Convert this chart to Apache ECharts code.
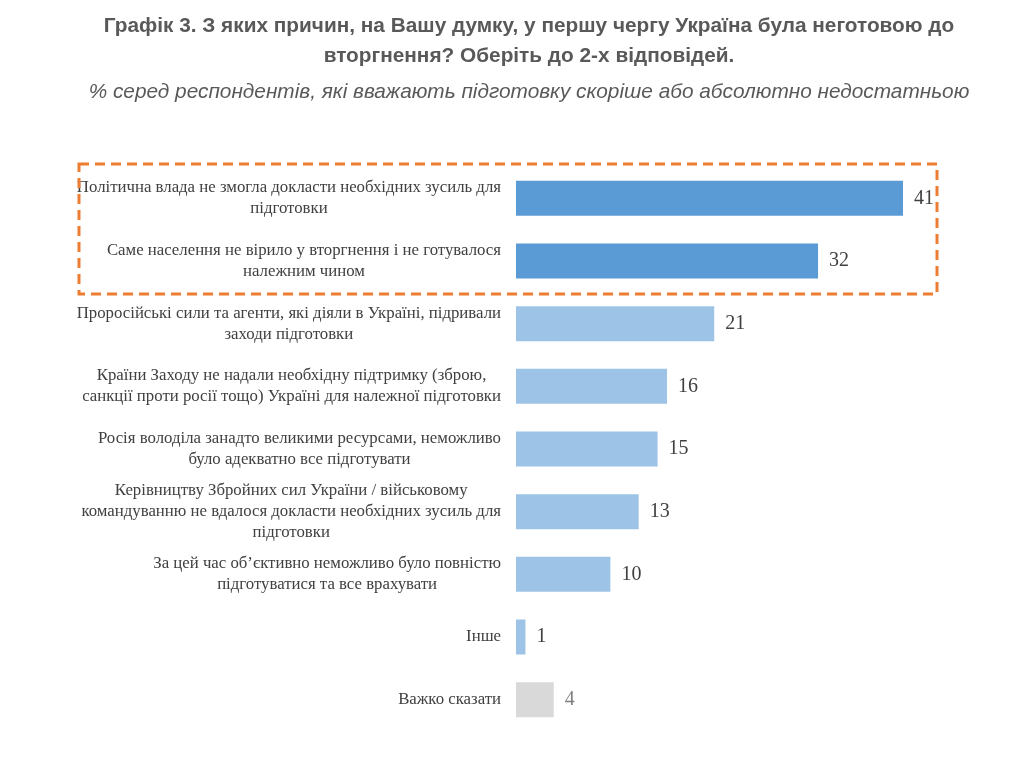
<!DOCTYPE html>
<html>
<head>
<meta charset="utf-8">
<script src="https://cdn.jsdelivr.net/npm/echarts@6/dist/echarts.min.js"></script>
<style>
  html, body { margin: 0; padding: 0; background: #fff; }
  .echarts { width: 1015px; height: 771px; }
</style>
</head>
<body>
<div class="echarts"></div>
<script>
// категорії знизу вгору (вісь Y категорій малює перший елемент внизу)
const categories = [
    'Важко сказати',
    'Інше',
    'За цей час об’єктивно неможливо було повністю\nпідготуватися та все врахувати',
    'Керівництву Збройних сил України / військовому\nкомандуванню не вдалося докласти необхідних зусиль для\nпідготовки',
    'Росія володіла занадто великими ресурсами, неможливо\nбуло адекватно все підготувати',
    'Країни Заходу не надали необхідну підтримку (зброю,\nсанкції проти росії тощо) Україні для належної підготовки',
    'Проросійські сили та агенти, які діяли в Україні, підривали\nзаходи підготовки',
    'Саме населення не вірило у вторгнення і не готувалося\nналежним чином',
    'Політична влада не змогла докласти необхідних зусиль для\nпідготовки'
];
const values = [4, 1, 10, 13, 15, 16, 21, 32, 41];
const barColors = ['#D9D9D9', '#9DC3E6', '#9DC3E6', '#9DC3E6', '#9DC3E6', '#9DC3E6', '#9DC3E6', '#5B9BD5', '#5B9BD5'];
const labelColors = ['#7F7F7F', '#404040', '#404040', '#404040', '#404040', '#404040', '#404040', '#404040', '#404040'];

window.addEventListener('load', function () {
    let myChart = echarts.init(document.querySelector('.echarts'));

    let myChartOption = {
        animation: false,
        title: [{
            text: 'Графік 3. З яких причин, на Вашу думку, у першу чергу Україна була неготовою до\nвторгнення? Оберіть до 2-х відповідей.',
            left: 524,
            top: 6,
            textAlign: 'center',
            textStyle: {
                fontFamily: 'Liberation Sans',
                fontWeight: 'bold',
                fontSize: 20.8,
                lineHeight: 30,
                color: '#595959'
            }
        }, {
            text: '% серед респондентів, які вважають підготовку скоріше або абсолютно недостатньою',
            left: 524,
            top: 77,
            textAlign: 'center',
            textStyle: {
                fontFamily: 'Liberation Sans',
                fontStyle: 'italic',
                fontWeight: 'normal',
                fontSize: 20.8,
                color: '#595959'
            }
        }],
        grid: {
            left: 516,
            right: 112,
            top: 167,
            bottom: 40
        },
        xAxis: {
            type: 'value',
            min: 0,
            max: 41,
            show: false
        },
        yAxis: {
            type: 'category',
            data: categories,
            axisLine: { show: false },
            axisTick: { show: false },
            axisLabel: {
                margin: 15,
                align: 'right',
                fontFamily: 'Liberation Serif',
                fontSize: 16.8,
                lineHeight: 21,
                color: '#404040',
                formatter: function (v) {
                    return v.split('\n').map(function (l) { return '{c|' + l + '}'; }).join('\n');
                },
                rich: {
                    c: {
                        align: 'center',
                        fontFamily: 'Liberation Serif',
                        fontSize: 16.8,
                        lineHeight: 21,
                        color: '#404040'
                    }
                }
            }
        },
        series: [{
            type: 'bar',
            barWidth: 35,
            data: values.map(function (v, i) {
                return {
                    value: v,
                    itemStyle: { color: barColors[i] },
                    label: { color: labelColors[i] }
                };
            }),
            label: {
                show: true,
                position: 'right',
                distance: 11,
                fontFamily: 'Liberation Serif',
                fontSize: 20,
                color: '#404040'
            }
        }],
        graphic: [{
            type: 'rect',
            shape: { x: 79, y: 164, width: 858, height: 130 },
            style: {
                fill: 'none',
                stroke: '#ED7D31',
                lineWidth: 3,
                lineDash: [10, 6]
            },
            z: 10
        }]
    };
    myChart.setOption(myChartOption);
});
</script>
</body>
</html>
